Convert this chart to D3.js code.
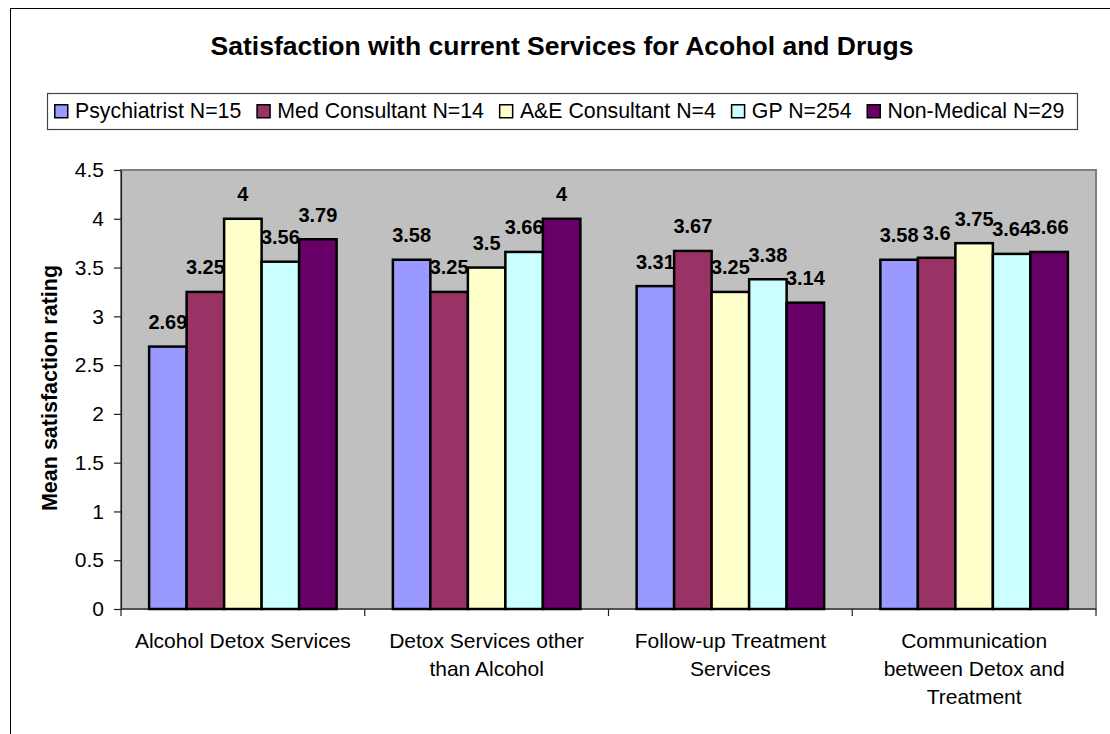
<!DOCTYPE html>
<html>
<head>
<meta charset="utf-8">
<script src="https://cdn.jsdelivr.net/npm/d3@7"></script>
<style>
  body { margin: 0; background: #fff; }
  svg { display: block; font-family: 'Liberation Sans', Arial, sans-serif; }
</style>
</head>
<body>
<svg id="chart" width="1110" height="734"></svg>
<script>
// Chart values
const categories = [
  'Alcohol Detox Services',
  'Detox Services other\nthan Alcohol',
  'Follow-up Treatment\nServices',
  'Communication\nbetween Detox and\nTreatment',
];
const seriesNames = [
  'Psychiatrist N=15',
  'Med Consultant N=14',
  'A&E Consultant N=4',
  'GP N=254',
  'Non-Medical N=29',
];
const psychiatrist = [2.69, 3.58, 3.31, 3.58];
const medConsultant = [3.25, 3.25, 3.67, 3.6];
const aeConsultant = [4, 3.5, 3.25, 3.75];
const gp = [3.56, 3.66, 3.38, 3.64];
const nonMedical = [3.79, 4, 3.14, 3.66];
const seriesColors = ['#9999FF', '#993366', '#FFFFCC', '#CCFFFF', '#660066'];
const yTicks = [0, 0.5, 1, 1.5, 2, 2.5, 3, 3.5, 4, 4.5];

const seriesValues = [psychiatrist, medConsultant, aeConsultant, gp, nonMedical];

const svg = d3.select('#chart');

// Outer chart frame (runs off the right and bottom of the picture)
svg
  .append('rect')
  .attr('x', 10.5)
  .attr('y', 8.5)
  .attr('width', 1120)
  .attr('height', 760)
  .attr('fill', '#fff')
  .attr('stroke', '#000')
  .attr('stroke-width', 1);

const plot = { left: 121, right: 1096, top: 170, bottom: 609 };

const x0 = d3
  .scaleBand()
  .domain(categories)
  .range([plot.left, plot.right])
  .padding(0);

const x1 = d3
  .scaleBand()
  .domain(seriesNames)
  .range([0, x0.bandwidth()])
  .paddingInner(0)
  .paddingOuter(0.75);

const y = d3.scaleLinear().domain([0, 4.5]).range([plot.bottom, plot.top]);

// Plot area background
svg
  .append('rect')
  .attr('x', plot.left)
  .attr('y', plot.top)
  .attr('width', plot.right - plot.left)
  .attr('height', plot.bottom - plot.top)
  .attr('fill', '#C0C0C0')
  .attr('stroke', '#808080')
  .attr('stroke-width', 2);

// Title
svg
  .append('text')
  .attr('x', 562)
  .attr('y', 55)
  .attr('text-anchor', 'middle')
  .style('font-size', '26.5px')
  .style('font-weight', 'bold')
  .text('Satisfaction with current Services for Acohol and Drugs');

// Legend
const legend = svg.append('g');
legend
  .append('rect')
  .attr('x', 47.5)
  .attr('y', 93.5)
  .attr('width', 1030)
  .attr('height', 36)
  .attr('fill', '#fff')
  .attr('stroke', '#444')
  .attr('stroke-width', 1.2);

let lx = 54;
seriesNames.forEach((name, i) => {
  legend
    .append('rect')
    .attr('x', lx + 0.75)
    .attr('y', 104.75)
    .attr('width', 13)
    .attr('height', 13)
    .attr('fill', seriesColors[i])
    .attr('stroke', '#000')
    .attr('stroke-width', 1.5);

  const label = legend
    .append('text')
    .attr('x', lx + 21)
    .attr('y', 118)
    .style('font-size', '21.3px')
    .text(name);

  lx += 21 + label.node().getComputedTextLength() + 15;
});

// Y axis
const yAxis = svg
  .append('g')
  .attr('transform', `translate(${plot.left},0)`)
  .call(
    d3
      .axisLeft(y)
      .tickValues(yTicks)
      .tickFormat((d) => d)
      .tickSize(7)
      .tickSizeOuter(0)
      .tickPadding(10)
  );

yAxis.selectAll('path, line').attr('stroke', '#222').attr('stroke-width', 1.2);
yAxis
  .selectAll('text')
  .style('font-size', '21px')
  .style('font-family', "'Liberation Sans', Arial, sans-serif")
  .attr('fill', '#000');

svg
  .append('text')
  .attr('transform', 'rotate(-90)')
  .attr('x', -388)
  .attr('y', 57)
  .attr('text-anchor', 'middle')
  .style('font-size', '21.5px')
  .style('font-weight', 'bold')
  .text('Mean satisfaction rating');

// X axis line and boundary ticks
svg
  .append('line')
  .attr('x1', plot.left)
  .attr('x2', plot.right)
  .attr('y1', plot.bottom)
  .attr('y2', plot.bottom)
  .attr('stroke', '#222')
  .attr('stroke-width', 1.2);

const boundaries = categories.map((c) => x0(c)).concat([x0.range()[1]]);
svg
  .selectAll('.x-tick')
  .data(boundaries)
  .join('line')
  .attr('class', 'x-tick')
  .attr('x1', (d) => d)
  .attr('x2', (d) => d)
  .attr('y1', plot.bottom)
  .attr('y2', plot.bottom + 7)
  .attr('stroke', '#222')
  .attr('stroke-width', 1.2);

// Category labels, wrapped as in the reference
const catLabels = svg
  .selectAll('.cat-label')
  .data(categories)
  .join('text')
  .attr('class', 'cat-label')
  .attr('text-anchor', 'middle')
  .style('font-size', '21px');

catLabels
  .selectAll('tspan')
  .data((d) => d.split('\n').map((line) => ({ line, cat: d })))
  .join('tspan')
  .attr('x', (d) => x0(d.cat) + x0.bandwidth() / 2)
  .attr('y', (d, i) => 648 + i * 28)
  .text((d) => d.line);

// Bars
const groups = svg
  .selectAll('.cat-group')
  .data(categories)
  .join('g')
  .attr('class', 'cat-group')
  .attr('transform', (d) => `translate(${x0(d)},0)`);

const barData = (cat, ci) =>
  seriesNames.map((name, si) => ({ name, si, value: seriesValues[si][ci] }));

groups
  .selectAll('rect')
  .data((d, ci) => barData(d, ci))
  .join('rect')
  .attr('x', (d) => x1(d.name))
  .attr('y', (d) => y(d.value))
  .attr('width', x1.bandwidth())
  .attr('height', (d) => y(0) - y(d.value))
  .attr('fill', (d) => seriesColors[d.si])
  .attr('stroke', '#000')
  .attr('stroke-width', 2.5);

// Value labels
groups
  .selectAll('.value-label')
  .data((d, ci) => barData(d, ci))
  .join('text')
  .attr('class', 'value-label')
  .attr('x', (d) => x1(d.name) + x1.bandwidth() / 2)
  .attr('y', (d) => y(d.value) - 17.5)
  .attr('text-anchor', 'middle')
  .style('font-size', '20px')
  .style('font-weight', 'bold')
  .text((d) => d.value);
</script>
</body>
</html>
